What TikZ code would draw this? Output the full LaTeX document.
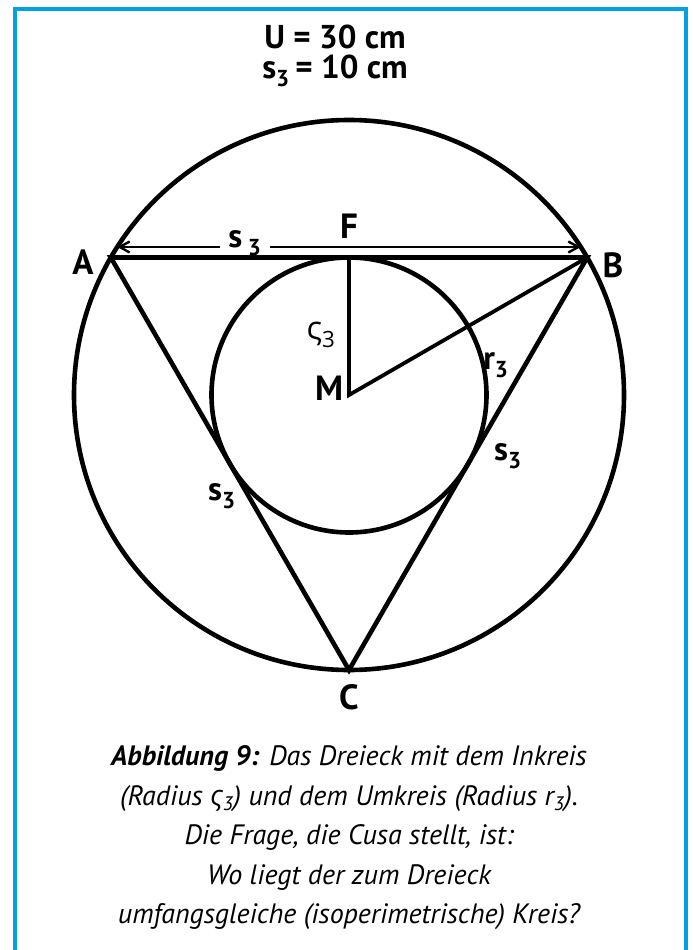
\documentclass[tikz,border=0pt]{standalone}
\usepackage{fontspec}
\setmainfont{PT Sans}
\newfontfamily\grk{Open Sans}
\usetikzlibrary{arrows.meta}
\definecolor{frameblue}{RGB}{0,160,227}
\newcommand\lowsub[1]{\textsubscript{#1}}
\begin{document}
\begin{tikzpicture}[x=1pt,y=-1pt,
  lbl/.style={font=\bfseries\fontsize{35}{40}\selectfont, inner sep=0pt},
  sublbl/.style={font=\bfseries\fontsize{33}{38}\selectfont, inner sep=0pt},
  geo/.style={line width=4.6pt, line join=miter},
  rad/.style={line width=3.8pt},
  dim/.style={line width=2.4pt, >={Straight Barb[length=10pt,width=11pt,line width=2.4pt]}},
  captext/.style={font=\itshape\fontsize{28}{39.5}\selectfont, align=center, inner sep=0pt}]
\useasboundingbox (0,0) rectangle (693,950);
\clip (0,0) rectangle (693,950);
\fill[white] (0,0) rectangle (693,950);
% frame
\draw[frameblue, line width=4pt] (14.5,9.5) rectangle (686,1000);
% geometry
\coordinate (M) at (349,395);
\coordinate (A) at (110.8,257.5);
\coordinate (B) at (587.2,257.5);
\coordinate (C) at (349,670);
\coordinate (F) at (349,257.5);
\coordinate (DL) at (117.2,247);
\coordinate (DR) at (580.8,247);
\draw[geo] (M) circle[radius=275pt];
\draw[geo] (M) circle[radius=137.5pt];
\draw[geo] (A) -- (B) -- (C) -- cycle;
\draw[rad] (F) -- (M) -- (B);
% dimension arrow with label
\node[sublbl, inner xsep=8pt] (s3a) at (245,243) {s\,\lowsub{3}};
\draw[dim, <-] (DL) -- (DL -| s3a.west);
\draw[dim, ->] (DR -| s3a.east) -- (DR);
% labels
\node[lbl] (lF) at (349,226) {F};
\node[lbl] (lA) at (83,262) {A};
\node[lbl] (lB) at (613,265) {B};
\node[lbl] (lC) at (349,697) {C};
\node[lbl] (lM) at (329,388) {M};
\node[sublbl, font=\grk\fontsize{32}{36}\selectfont] (lrho) at (321,335) {ς\lowsub{3}};
\node[sublbl] (lr) at (496,365) {r\lowsub{3}};
\node[sublbl] (ls1) at (508,456) {s\lowsub{3}};
\node[sublbl] (ls2) at (222,496) {s\lowsub{3}};
% top text
\node[font=\bfseries\fontsize{33}{33}\selectfont, align=center, inner sep=0pt] (top) at (335,56) {U = 30 cm\\[-3pt]s\lowsub{3}\,= 10 cm};
% caption
\node[captext] (capt) at (349,838) {\textbf{Abbildung 9:} Das Dreieck mit dem Inkreis\\
(Radius {\grk ς}\lowsub{3}) und dem Umkreis (Radius r\lowsub{3}).\\
Die Frage, die Cusa stellt, ist:\\
Wo liegt der zum Dreieck\\
umfangsgleiche (isoperimetrische) Kreis?};
\end{tikzpicture}
\end{document}
